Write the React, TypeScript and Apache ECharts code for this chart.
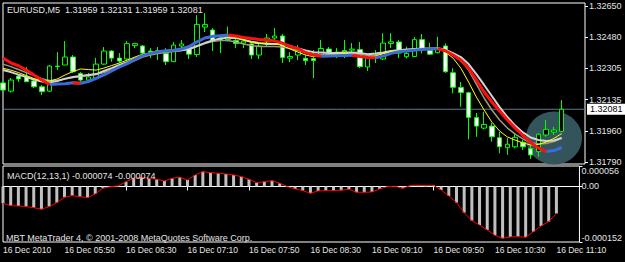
import React, { useEffect, useRef } from 'react';
import * as echarts from 'echarts';

const symbolName = 'EURUSD,M5';
const dayLabel = '16 Dec';
const yearLabel = '2010';
const firstBarMinutes = 5 * 60 + 10; // 05:10
const barMinutes = 5;
const futureSlots = 3;

const opens = [1.32226, 1.32181, 1.32264, 1.32259, 1.32237, 1.32205, 1.32181, 1.32319, 1.32325, 1.32369, 1.32278, 1.32242, 1.32253, 1.32330, 1.32402, 1.32363, 1.32358, 1.32432, 1.32430, 1.32402, 1.32396, 1.32388, 1.32343, 1.32430, 1.32424, 1.32383, 1.32534, 1.32518, 1.32474, 1.32465, 1.32460, 1.32446, 1.32441, 1.32380, 1.32457, 1.32474, 1.32485, 1.32363, 1.32380, 1.32362, 1.32361, 1.32380, 1.32413, 1.32380, 1.32396, 1.32407, 1.32410, 1.32314, 1.32374, 1.32358, 1.32444, 1.32452, 1.32371, 1.32372, 1.32465, 1.32407, 1.32393, 1.32430, 1.32282, 1.32201, 1.32172, 1.32035, 1.31977, 1.31988, 1.31924, 1.31869, 1.31874, 1.31899, 1.31864, 1.31847, 1.31939, 1.31955, 1.31959];
const closes = [1.32187, 1.32242, 1.32248, 1.32233, 1.32205, 1.32178, 1.32319, 1.32316, 1.32369, 1.32288, 1.32242, 1.32259, 1.32330, 1.32402, 1.32363, 1.32347, 1.32443, 1.32443, 1.32391, 1.32396, 1.32405, 1.32343, 1.32435, 1.32441, 1.32385, 1.32549, 1.32548, 1.32457, 1.32463, 1.32482, 1.32443, 1.32457, 1.32380, 1.32430, 1.32474, 1.32485, 1.32366, 1.32372, 1.32407, 1.32349, 1.32350, 1.32416, 1.32396, 1.32396, 1.32405, 1.32413, 1.32316, 1.32369, 1.32362, 1.32446, 1.32453, 1.32391, 1.32389, 1.32465, 1.32411, 1.32385, 1.32417, 1.32288, 1.32202, 1.32174, 1.32036, 1.31988, 1.31997, 1.31929, 1.31874, 1.31888, 1.31926, 1.31874, 1.31829, 1.31943, 1.31970, 1.31966, 1.32081];
const lows = [1.32176, 1.32173, 1.32231, 1.32231, 1.32198, 1.32159, 1.32176, 1.32297, 1.32325, 1.32281, 1.32231, 1.32231, 1.32242, 1.32325, 1.32343, 1.32336, 1.32352, 1.32418, 1.32380, 1.32363, 1.32352, 1.32325, 1.32341, 1.32418, 1.32358, 1.32369, 1.32507, 1.32402, 1.32391, 1.32454, 1.32418, 1.32418, 1.32358, 1.32358, 1.32426, 1.32463, 1.32336, 1.32341, 1.32352, 1.32325, 1.32253, 1.32369, 1.32380, 1.32363, 1.32363, 1.32391, 1.32308, 1.32292, 1.32336, 1.32352, 1.32418, 1.32363, 1.32362, 1.32369, 1.32389, 1.32380, 1.32389, 1.32282, 1.32169, 1.32095, 1.31915, 1.31929, 1.31970, 1.31902, 1.31838, 1.31829, 1.31866, 1.31856, 1.31807, 1.31819, 1.31929, 1.31939, 1.31959];
const highs = [1.32237, 1.32253, 1.32275, 1.32314, 1.32245, 1.32215, 1.32325, 1.32396, 1.32457, 1.32380, 1.32286, 1.32281, 1.32365, 1.32424, 1.32407, 1.32391, 1.32457, 1.32446, 1.32435, 1.32418, 1.32424, 1.32418, 1.32452, 1.32463, 1.32435, 1.32600, 1.32611, 1.32529, 1.32479, 1.32537, 1.32468, 1.32468, 1.32446, 1.32446, 1.32496, 1.32529, 1.32496, 1.32396, 1.32435, 1.32380, 1.32407, 1.32463, 1.32424, 1.32418, 1.32463, 1.32446, 1.32452, 1.32380, 1.32407, 1.32500, 1.32501, 1.32463, 1.32426, 1.32479, 1.32496, 1.32448, 1.32481, 1.32444, 1.32307, 1.32231, 1.32178, 1.32060, 1.32067, 1.32005, 1.31957, 1.31921, 1.31948, 1.31911, 1.31884, 1.31948, 1.32022, 1.31983, 1.32131];

// thick moving average, drawn red while falling and blue while rising
const maThick = [1.32363, 1.32337, 1.32321, 1.32297, 1.32270, 1.32242, 1.32218, 1.32220, 1.32222, 1.32227, 1.32224, 1.32234, 1.32251, 1.32270, 1.32292, 1.32314, 1.32333, 1.32356, 1.32377, 1.32389, 1.32398, 1.32404, 1.32407, 1.32413, 1.32427, 1.32453, 1.32474, 1.32483, 1.32487, 1.32490, 1.32485, 1.32477, 1.32471, 1.32466, 1.32463, 1.32458, 1.32446, 1.32428, 1.32416, 1.32393, 1.32380, 1.32373, 1.32374, 1.32376, 1.32378, 1.32379, 1.32372, 1.32367, 1.32365, 1.32374, 1.32389, 1.32398, 1.32402, 1.32407, 1.32411, 1.32413, 1.32415, 1.32404, 1.32380, 1.32352, 1.32307, 1.32242, 1.32176, 1.32121, 1.32071, 1.32022, 1.31977, 1.31936, 1.31898, 1.31867, 1.31848, 1.31853, 1.31870];
const maSilver = [1.32297, 1.32286, 1.32272, 1.32259, 1.32245, 1.32234, 1.32228, 1.32237, 1.32250, 1.32259, 1.32264, 1.32270, 1.32275, 1.32292, 1.32308, 1.32325, 1.32341, 1.32361, 1.32377, 1.32391, 1.32399, 1.32402, 1.32405, 1.32407, 1.32413, 1.32430, 1.32446, 1.32460, 1.32471, 1.32476, 1.32474, 1.32465, 1.32454, 1.32446, 1.32441, 1.32441, 1.32441, 1.32430, 1.32416, 1.32405, 1.32396, 1.32394, 1.32391, 1.32391, 1.32394, 1.32394, 1.32391, 1.32385, 1.32388, 1.32394, 1.32402, 1.32407, 1.32410, 1.32413, 1.32416, 1.32416, 1.32418, 1.32410, 1.32391, 1.32369, 1.32330, 1.32275, 1.32215, 1.32154, 1.32093, 1.32038, 1.31991, 1.31953, 1.31925, 1.31911, 1.31906, 1.31909, 1.31922];
const maKhaki = [1.32330, 1.32316, 1.32300, 1.32283, 1.32267, 1.32250, 1.32239, 1.32239, 1.32248, 1.32256, 1.32261, 1.32267, 1.32272, 1.32283, 1.32297, 1.32314, 1.32330, 1.32350, 1.32369, 1.32380, 1.32388, 1.32394, 1.32399, 1.32405, 1.32413, 1.32427, 1.32443, 1.32454, 1.32460, 1.32460, 1.32452, 1.32441, 1.32432, 1.32427, 1.32427, 1.32427, 1.32424, 1.32416, 1.32405, 1.32394, 1.32385, 1.32383, 1.32383, 1.32385, 1.32388, 1.32388, 1.32383, 1.32377, 1.32380, 1.32388, 1.32396, 1.32402, 1.32405, 1.32407, 1.32410, 1.32413, 1.32416, 1.32407, 1.32385, 1.32352, 1.32297, 1.32220, 1.32143, 1.32077, 1.32022, 1.31977, 1.31944, 1.31917, 1.31897, 1.31889, 1.31892, 1.31903, 1.31922];
const maYellow = [1.32307, 1.32297, 1.32283, 1.32267, 1.32250, 1.32239, 1.32237, 1.32248, 1.32270, 1.32289, 1.32303, 1.32300, 1.32297, 1.32308, 1.32322, 1.32336, 1.32352, 1.32369, 1.32385, 1.32391, 1.32396, 1.32399, 1.32407, 1.32418, 1.32430, 1.32452, 1.32471, 1.32479, 1.32485, 1.32487, 1.32476, 1.32463, 1.32449, 1.32443, 1.32446, 1.32443, 1.32432, 1.32413, 1.32396, 1.32380, 1.32371, 1.32377, 1.32380, 1.32385, 1.32388, 1.32383, 1.32374, 1.32369, 1.32374, 1.32388, 1.32399, 1.32405, 1.32405, 1.32410, 1.32413, 1.32416, 1.32417, 1.32396, 1.32363, 1.32308, 1.32231, 1.32148, 1.32077, 1.32010, 1.31961, 1.31928, 1.31911, 1.31895, 1.31884, 1.31887, 1.31900, 1.31920, 1.31947];

const macd = [-0.0000460, -0.0000526, -0.0000534, -0.0000553, -0.0000580, -0.0000624, -0.0000553, -0.0000443, -0.0000296, -0.0000252, -0.0000279, -0.0000307, -0.0000205, -0.0000049, -0.0000005, 0.0000014, 0.0000131, 0.0000224, 0.0000252, 0.0000224, 0.0000197, 0.0000151, 0.0000224, 0.0000252, 0.0000178, 0.0000315, 0.0000405, 0.0000378, 0.0000361, 0.0000342, 0.0000315, 0.0000268, 0.0000197, 0.0000104, 0.0000131, 0.0000159, 0.0000088, -0.0000005, -0.0000068, -0.0000115, -0.0000186, -0.0000123, -0.0000115, -0.0000115, -0.0000104, -0.0000077, -0.0000159, -0.0000159, -0.0000151, -0.0000068, -0.0000005, 0.0000005, -0.0000049, 0.0000022, 0.0000033, 0.0000022, 0.0000033, -0.0000096, -0.0000260, -0.0000443, -0.0000717, -0.0000936, -0.0001054, -0.0001191, -0.0001336, -0.0001418, -0.0001382, -0.0001374, -0.0001390, -0.0001237, -0.0001081, -0.0000963, -0.000074];
const macdSignal = macd.slice();

const priceTickValues = [1.3265, 1.32478, 1.32306, 1.32134, 1.31962, 1.3179];
const priceTickLabels = ['1.32650', '1.32480', '1.32305', '1.32135', '1.31960', '1.31790'];
const macdTickValues = [0.000056, 0, -0.000152];
const macdTickLabels = ['0.000056', '0.00', '-0.000152'];

const FONT = '"Liberation Sans", Arial, sans-serif';
const TEXT = '#e4e4e4';

function pad(v: number) { return v < 10 ? '0' + v : '' + v; }

function nearestLabel(v: number, vals: number[], labels: string[]) {
  let best = 0;
  for (let i = 1; i < vals.length; i++) if (Math.abs(vals[i] - v) < Math.abs(vals[best] - v)) best = i;
  return labels[best];
}

export default function App() {
  const ref = useRef<HTMLDivElement>(null);
  useEffect(() => {
    if (!ref.current) return;
    const chart = echarts.init(ref.current, undefined, { renderer: 'svg' });
    const n = closes.length;
    const cats = Array.from({ length: n + futureSlots }, (_, i) => {
      const m = firstBarMinutes + barMinutes * i;
      return pad(Math.floor(m / 60) % 24) + ':' + pad(m % 60);
    });
    const candle = opens.map((o, i) => [o, closes[i], lows[i], highs[i]]);
    const falling = (i: number) => maThick[i + 1] < maThick[i];
    const redData = maThick.map((v, i) => ((i > 0 && falling(i - 1)) || (i < n - 1 && falling(i))) ? v : null);
    const blueData = maThick.map((v, i) => ((i > 0 && !falling(i - 1)) || (i < n - 1 && !falling(i))) ? v : null);
    const last = n - 1;
    const title = `${symbolName}  ${opens[last].toFixed(5)} ${highs[last].toFixed(5)} ${lows[last].toFixed(5)} ${closes[last].toFixed(5)}`;
    const macdTitle = `MACD(12,13,1) ${macd[last].toFixed(6)} ${macdSignal[last].toFixed(6)}`;
    const lastPriceLine = cats.map(() => closes[last]);

    const lineSeries = (data: (number | null)[], color: string, width: number) => ({
      type: 'line', xAxisIndex: 0, yAxisIndex: 0, data, showSymbol: false, symbol: 'none',
      lineStyle: { color, width }, connectNulls: false, silent: true, z: 3,
    });

    chart.setOption({
      animation: false,
      backgroundColor: '#000000',
      grid: [
        { left: 3, top: 3, width: 582, height: 161, show: true, borderColor: '#ffffff', borderWidth: 1, backgroundColor: 'transparent' },
        { left: 3, top: 166, width: 582, height: 76, show: true, borderColor: '#ffffff', borderWidth: 1, backgroundColor: 'transparent' },
      ],
      xAxis: [
        { type: 'category', gridIndex: 0, data: cats, boundaryGap: false, axisLine: { show: false }, axisTick: { show: false }, axisLabel: { show: false }, splitLine: { show: false } },
        {
          type: 'category', gridIndex: 1, data: cats, boundaryGap: false,
          axisLine: { show: true, lineStyle: { color: '#ffffff' } },
          axisTick: { show: true, interval: 7, length: 4, lineStyle: { color: '#ffffff' } },
          axisLabel: {
            interval: 7, align: 'left', margin: 3, color: TEXT, fontSize: 8.5, fontFamily: FONT,
            formatter: (v: string, i: number) => (i === 0 ? `${dayLabel} ${yearLabel}` : `${dayLabel} ${v}`),
          },
          splitLine: { show: false },
        },
      ],
      yAxis: [
        {
          type: 'value', gridIndex: 0, position: 'right', min: 1.31779, max: 1.32667,
          splitLine: { show: false }, axisLine: { show: false },
          axisTick: { show: true, length: 3, customValues: priceTickValues, lineStyle: { color: '#ffffff' } },
          axisLabel: {
            customValues: priceTickValues, margin: 4, color: TEXT, fontSize: 9, fontFamily: FONT,
            formatter: (v: number) => nearestLabel(v, priceTickValues, priceTickLabels),
          },
        },
        {
          type: 'value', gridIndex: 1, position: 'right', min: -0.000152, max: 0.000056,
          splitLine: { show: false }, axisLine: { show: false },
          axisTick: { show: true, length: 3, customValues: macdTickValues, lineStyle: { color: '#ffffff' } },
          axisLabel: {
            customValues: macdTickValues, margin: 2, color: TEXT, fontSize: 9, fontFamily: FONT,
            verticalAlignMaxLabel: 'bottom', verticalAlignMinLabel: 'top',
            formatter: (v: number) => nearestLabel(v, macdTickValues, macdTickLabels),
          },
        },
      ],
      graphic: [
        { type: 'ellipse', z: 1, silent: true, shape: { cx: 554, cy: 138, rx: 28, ry: 26.5 }, style: { fill: '#33545a' } },
        { type: 'text', z: 10, x: 7, y: 10, style: { text: title, fill: TEXT, fontSize: 9, fontFamily: FONT, verticalAlign: 'middle' } },
        { type: 'text', z: 10, x: 7, y: 176, style: { text: macdTitle, fill: TEXT, fontSize: 9, fontFamily: FONT, verticalAlign: 'middle' } },
        { type: 'text', z: 10, x: 6, y: 238, style: { text: 'MBT MetaTrader 4, © 2001-2008 MetaQuotes Software Corp.', fill: TEXT, fontSize: 9, fontFamily: FONT, verticalAlign: 'middle' } },
      ],
      series: [
        {
          type: 'line', xAxisIndex: 0, yAxisIndex: 0, data: lastPriceLine, showSymbol: false, symbol: 'none', silent: true, z: 1,
          lineStyle: { color: '#5f7f8c', width: 1 },
          endLabel: {
            show: true, distance: 2, color: '#000000', backgroundColor: '#ffffff',
            padding: [1, 3, 1, 3], fontSize: 9, fontFamily: FONT,
            formatter: () => closes[last].toFixed(5),
          },
        },
        {
          type: 'candlestick', xAxisIndex: 0, yAxisIndex: 0, data: candle, barWidth: 5, clip: true, z: 2,
          itemStyle: { color: '#000000', color0: '#ffffff', borderColor: '#00ff00', borderColor0: '#00ff00', borderWidth: 1 },
        },
        lineSeries(maKhaki, '#9c9a7c', 1.5),
        lineSeries(maSilver, '#d2d2d2', 2),
        lineSeries(maYellow, '#ffff00', 1),
        lineSeries(blueData, '#3d6bd8', 3),
        lineSeries(redData, '#ff1010', 3),
        {
          type: 'bar', xAxisIndex: 1, yAxisIndex: 1, data: macd, barWidth: 3, silent: true,
          itemStyle: { color: '#c0c0c0' },
        },
        {
          type: 'line', xAxisIndex: 1, yAxisIndex: 1, data: macdSignal, showSymbol: false, symbol: 'none', silent: true,
          lineStyle: { color: '#ff0000', width: 1 }, z: 3,
        },
      ],
    });
    return () => chart.dispose();
  }, []);
  return <div ref={ref} style={{ position: 'fixed', left: 0, top: 0, width: 625, height: 262 }} />;
}
